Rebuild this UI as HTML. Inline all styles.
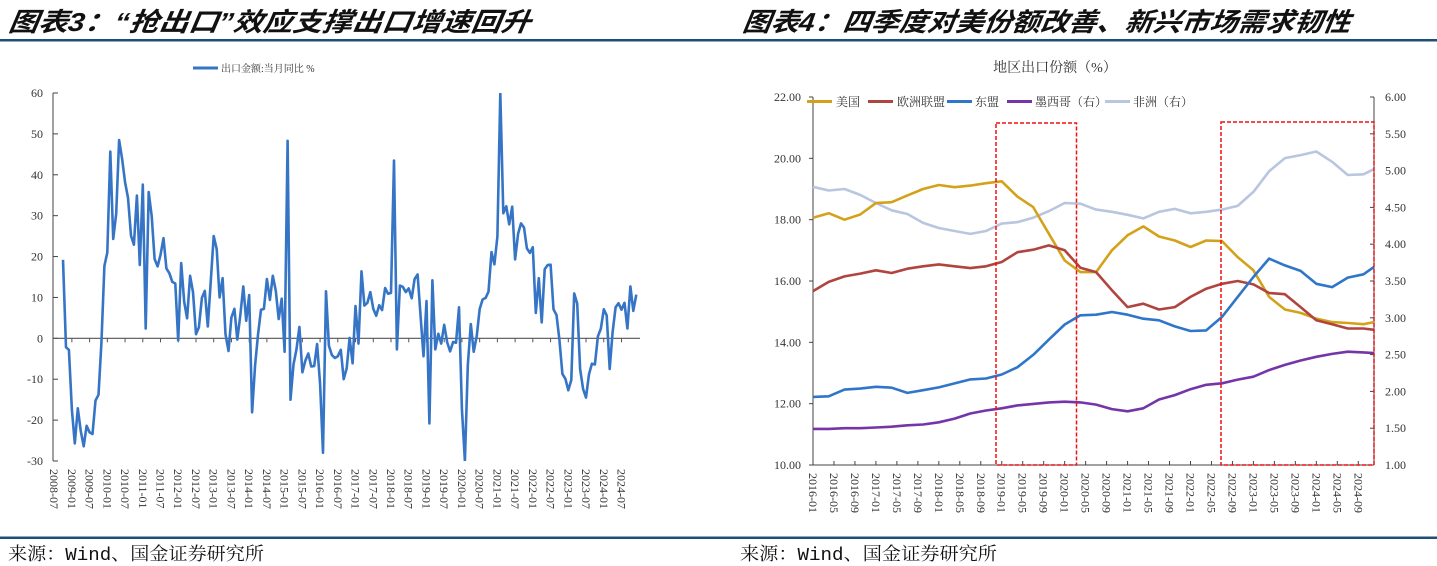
<!DOCTYPE html>
<html><head><meta charset="utf-8">
<style>
html,body{margin:0;padding:0;background:#fff;}
svg{display:block;}
.num{font-family:"Liberation Serif","Noto Serif CJK SC",serif;font-size:12px;fill:#333;}
.cj{font-family:"Liberation Serif","Noto Serif CJK SC",serif;fill:#333;}
.hd{font-family:"Liberation Sans","Noto Sans CJK SC",sans-serif;font-weight:bold;font-style:italic;font-size:26px;fill:#111;}
.src{font-family:"Liberation Mono","Noto Serif CJK SC",monospace;font-size:18px;fill:#111;}
</style></head>
<body>
<svg id="root" width="1437" height="566" viewBox="0 0 1437 566" xmlns="http://www.w3.org/2000/svg">
  <text class="hd" x="8" y="31" textLength="522" lengthAdjust="spacingAndGlyphs" transform="skewX(-8) translate(4,0)">图表3：“抢出口”效应支撑出口增速回升</text>
  <text class="hd" x="742" y="31" textLength="608" lengthAdjust="spacingAndGlyphs" transform="skewX(-8) translate(4,0)">图表4：四季度对美份额改善、新兴市场需求韧性</text>
  <rect x="0" y="39" width="1437" height="2.5" fill="#1d4f78"/>
  <rect x="0" y="536.5" width="1437" height="2.5" fill="#1d4f78"/>
  <text class="src" x="8" y="560" textLength="256" lengthAdjust="spacingAndGlyphs">来源：Wind、国金证券研究所</text>
  <text class="src" x="740" y="560" textLength="257" lengthAdjust="spacingAndGlyphs">来源：Wind、国金证券研究所</text>
  <g id="left"></g>
  <g id="right"></g>
</svg>
<script>
// ---------- Chart 3 data ----------
const exportStart = '2008-10';
const exportYoY = [19.2,-2.2,-2.8,
-17.5,-25.7,-17.1,-22.6,-26.4,-21.4,-23.0,-23.4,-15.2,-13.8,-1.2,17.7,
21.0,45.7,24.3,30.5,48.5,43.9,38.1,34.4,25.1,22.9,34.9,17.9,
37.6,2.4,35.8,29.9,19.4,17.6,20.4,24.5,17.1,15.9,13.8,13.4,
-0.5,18.4,8.9,4.9,15.3,11.3,1.0,2.7,9.9,11.6,2.9,14.1,
25.0,21.8,10.0,14.7,1.0,-3.1,5.1,7.2,-0.3,5.6,12.7,4.3,
10.6,-18.1,-6.6,0.9,7.0,7.2,14.5,9.4,15.3,11.6,4.7,9.7,
-3.3,48.3,-15.0,-6.4,-2.8,2.8,-8.3,-5.5,-3.7,-6.9,-6.8,-1.4,
-11.2,-28.0,11.5,-1.8,-4.1,-4.8,-4.4,-2.8,-10.0,-7.3,0.1,-6.1,
7.9,-1.3,16.4,8.0,8.7,11.3,7.2,5.5,8.1,6.9,12.3,10.9,
11.1,43.5,-2.7,12.9,12.6,11.3,12.2,9.8,14.5,15.6,5.4,-4.4,
9.1,-20.8,14.2,-2.7,1.1,-1.3,3.3,-1.0,-3.2,-0.9,-1.1,7.6,
-17.2,-40.6,-6.6,3.5,-3.3,0.5,7.2,9.5,9.9,11.4,21.1,18.1,
24.9,154.9,30.6,32.3,27.9,32.2,19.3,25.6,28.1,27.1,22.0,20.9,
22.3,6.2,14.7,3.9,16.9,17.9,18.0,7.1,5.7,-0.3,-8.7,-9.9,
-12.7,-10.2,11.0,8.5,-7.5,-12.4,-14.5,-8.8,-6.2,-6.4,0.5,2.3,
7.1,5.6,-7.5,1.5,7.6,8.6,7.0,8.7,2.4,12.7,6.7,10.7];
const exportYTicks = [60,50,40,30,20,10,0,-10,-20,-30];
const exportXLabels = [];
for (let y=2008;y<=2024;y++){ if(y>2008) exportXLabels.push(y+'-01'); exportXLabels.push(y+'-07'); }

// ---------- Chart 4 data ----------
const shareDates = ['2016-01','2016-04','2016-07','2016-10','2017-01','2017-04','2017-07','2017-10','2018-01','2018-04','2018-07','2018-10','2019-01','2019-04','2019-07','2019-10','2020-01','2020-04','2020-07','2020-10','2021-01','2021-04','2021-07','2021-10','2022-01','2022-04','2022-07','2022-10','2023-01','2023-04','2023-07','2023-10','2024-01','2024-04','2024-07','2024-10','2024-12'];
const usShare = [18.06,18.21,18.0,18.17,18.54,18.57,18.79,19.0,19.13,19.06,19.11,19.19,19.25,18.75,18.41,17.54,16.67,16.29,16.29,17.0,17.49,17.78,17.45,17.32,17.11,17.32,17.30,16.78,16.35,15.48,15.07,14.96,14.77,14.66,14.63,14.59,14.66];
const euShare = [15.67,15.97,16.15,16.24,16.35,16.26,16.40,16.48,16.54,16.48,16.42,16.48,16.62,16.94,17.02,17.16,17.0,16.43,16.29,15.70,15.15,15.26,15.07,15.15,15.48,15.75,15.91,16.0,15.89,15.61,15.57,15.15,14.72,14.59,14.45,14.45,14.41];
const aseanShare = [12.22,12.24,12.46,12.49,12.55,12.52,12.35,12.44,12.53,12.66,12.79,12.82,12.95,13.19,13.59,14.09,14.58,14.88,14.90,14.99,14.90,14.77,14.72,14.52,14.37,14.39,14.83,15.48,16.13,16.73,16.51,16.33,15.91,15.80,16.11,16.22,16.46];
const mexicoShare = [1.49,1.49,1.50,1.50,1.51,1.52,1.54,1.55,1.58,1.63,1.70,1.74,1.77,1.81,1.83,1.85,1.86,1.85,1.82,1.76,1.73,1.77,1.89,1.95,2.03,2.09,2.11,2.16,2.20,2.29,2.36,2.42,2.47,2.51,2.54,2.53,2.52];
const africaShare = [4.78,4.73,4.75,4.67,4.56,4.46,4.41,4.29,4.22,4.18,4.14,4.18,4.28,4.30,4.36,4.45,4.56,4.55,4.47,4.44,4.40,4.35,4.44,4.48,4.42,4.44,4.47,4.52,4.71,4.99,5.17,5.21,5.26,5.12,4.94,4.95,5.02];
const leftTicks = [22,20,18,16,14,12,10];
const rightTicks = [6,5.5,5,4.5,4,3.5,3,2.5,2,1.5,1];
const shareXLabels = [];
for (let m=0;m<=104;m+=4){ const y=2016+Math.floor(m/12), mo=m%12+1; shareXLabels.push(y+'-'+(mo<10?'0':'')+mo); }

const NS='http://www.w3.org/2000/svg';
function mk(parent, tag, attrs, text){ const e=document.createElementNS(NS,tag); for(const k in attrs) e.setAttribute(k,attrs[k]); if(text!==undefined) e.textContent=text; parent.appendChild(e); return e; }
function monthIdx(s, base){ const [y,m]=s.split('-').map(Number); const [by,bm]=base.split('-').map(Number); return (y-by)*12+(m-bm); }

// ---------- Draw chart 3 ----------
(function(){
  const g=document.getElementById('left');
  const x0=63, dx=2.955, yTop=93, yBot=461, vMax=60, vMin=-30;
  const X=i=>x0+i*dx;
  const Y=v=>yTop+(vMax-v)*(yBot-yTop)/(vMax-vMin);
  const clamp=v=>Math.max(vMin,Math.min(vMax,v));
  let ax=mk(g,'line',{x1:53,y1:yTop,x2:53,y2:yBot,stroke:'#444','stroke-width':1});
   
  exportYTicks.forEach(v=>{
    const t=mk(g,'line',{x1:53,y1:Y(v),x2:58,y2:Y(v),stroke:'#444','stroke-width':1});
     
    const l=mk(g,'text',{x:43,y:Y(v)+4,'text-anchor':'end',class:'num'},String(v));
     
  });
  const z=mk(g,'line',{x1:53,y1:Y(0),x2:640,y2:Y(0),stroke:'#555','stroke-width':1.2});
   
  exportXLabels.forEach(s=>{
    const i=monthIdx(s,exportStart), x=X(i);
    if(i>-3){ const t=mk(g,'line',{x1:x,y1:Y(0),x2:x,y2:Y(0)+4,stroke:'#555','stroke-width':1});
        }
    const l=mk(g,'text',{x:0,y:0,class:'num','font-size':'11',transform:`translate(${x-4},469) rotate(90)`},s);
     
  });
  const cp=mk(g,'clipPath',{id:'lclip'}); mk(cp,'rect',{x:50,y:yTop,width:600,height:yBot-yTop});
  const pts=exportYoY.map((v,i)=>X(i).toFixed(1)+','+Y(clamp(v)).toFixed(1)).join(' ');
  const p=mk(g,'polyline',{points:pts,fill:'none',stroke:'#3675c6','stroke-width':2.6,'stroke-linejoin':'round','clip-path':'url(#lclip)'});
   
  const ll=mk(g,'line',{x1:193,y1:68,x2:218,y2:68,stroke:'#3675c6','stroke-width':3});
   
  const lt=mk(g,'text',{x:221,y:72,class:'cj','font-size':'10'},'出口金额:当月同比 %');
   
})();

// ---------- Draw chart 4 ----------
(function(){
  const g=document.getElementById('right');
  const xL=813, xR=1374, dx=5.243, yTop=97, yBot=465;
  const X=m=>xL+m*dx;
  const YL=v=>yBot-(v-10)*(yBot-yTop)/12;
  const YR=v=>yBot-(v-1)*(yBot-yTop)/5;
  const t=mk(g,'text',{x:1055,y:72,'text-anchor':'middle',class:'cj','font-size':'14'},'地区出口份额（%）');
   
  let a=mk(g,'line',{x1:xL,y1:yTop,x2:xL,y2:yBot,stroke:'#444'});  
  a=mk(g,'line',{x1:xR,y1:yTop,x2:xR,y2:yBot,stroke:'#444'});  
  a=mk(g,'line',{x1:xL,y1:yBot,x2:xR,y2:yBot,stroke:'#444'});  
  leftTicks.forEach(v=>{
    const tk=mk(g,'line',{x1:xL-4,y1:YL(v),x2:xL,y2:YL(v),stroke:'#444'});  
    const l=mk(g,'text',{x:801,y:YL(v)+4,'text-anchor':'end',class:'num'},v.toFixed(2));  
  });
  rightTicks.forEach(v=>{
    const tk=mk(g,'line',{x1:xR-4,y1:YR(v),x2:xR,y2:YR(v),stroke:'#444'});  
    const l=mk(g,'text',{x:1385,y:YR(v)+4,class:'num'},v.toFixed(2));  
  });
  shareXLabels.forEach(s=>{
    const x=X(monthIdx(s,'2016-01'));
    const tk=mk(g,'line',{x1:x,y1:yBot,x2:x,y2:yBot-4,stroke:'#444'});  
    const l=mk(g,'text',{x:0,y:0,class:'num','font-size':'11',transform:`translate(${x-4},473) rotate(90)`},s);  
  });
  const series=[
    {vals:africaShare,c:'#b9c6e0',ax:'R',n:'africa-line'},
    {vals:usShare,c:'#d4a21a',ax:'L',n:'us-line'},
    {vals:euShare,c:'#b0443e',ax:'L',n:'eu-line'},
    {vals:aseanShare,c:'#2f76c8',ax:'L',n:'asean-line'},
    {vals:mexicoShare,c:'#7535a8',ax:'R',n:'mexico-line'}];
  series.forEach(s=>{
    const Y=s.ax==='L'?YL:YR;
    const pts=s.vals.map((v,i)=>X(monthIdx(shareDates[i],'2016-01')).toFixed(1)+','+Y(v).toFixed(1)).join(' ');
    const p=mk(g,'polyline',{points:pts,fill:'none',stroke:s.c,'stroke-width':2.6,'stroke-linejoin':'round'});
     
  });
  let b=mk(g,'rect',{x:996,y:123,width:80.5,height:342,fill:'none',stroke:'#f01010','stroke-width':1.5,'stroke-dasharray':'4,2'});
   
  b=mk(g,'rect',{x:1221,y:122,width:153,height:343,fill:'none',stroke:'#f01010','stroke-width':1.5,'stroke-dasharray':'4,2'});
   
  const leg=[['美国','#d4a21a',807,836],['欧洲联盟','#b0443e',868,897],['东盟','#2f76c8',947,975],['墨西哥（右）','#7535a8',1007,1035],['非洲（右）','#b9c6e0',1105,1133]];
  leg.forEach(e=>{
    const sw=mk(g,'line',{x1:e[2],y1:101.5,x2:e[2]+25,y2:101.5,stroke:e[1],'stroke-width':3});
     
    const lt=mk(g,'text',{x:e[3],y:106,class:'cj','font-size':'12'},e[0]);
     
  });
})();
</script>
</body></html>
